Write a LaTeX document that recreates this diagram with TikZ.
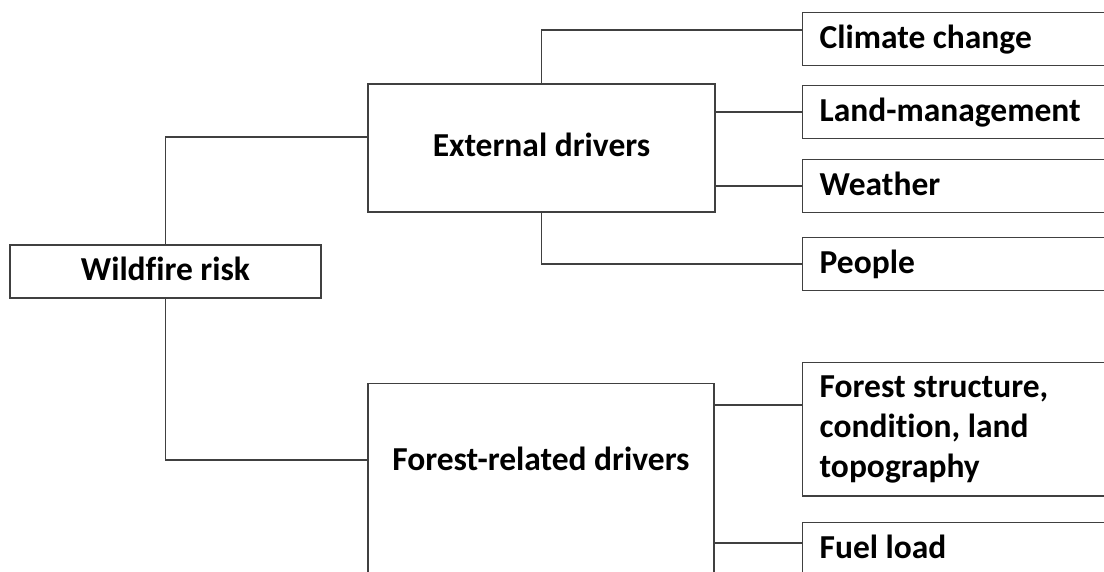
\documentclass[tikz,border=0pt]{standalone}
\usepackage{fontspec}
\setmainfont{Carlito}[Ligatures=NoCommon]
\usetikzlibrary{positioning}
\definecolor{linegray}{HTML}{404040}

\begin{document}
\begin{tikzpicture}[x=1pt,y=-1pt,
    connector/.style={draw=linegray,line width=1.4pt},
    frame node/.style={rectangle,draw=linegray,line width=1.3pt,fill=white,
                       font=\fontsize{33.5}{40}\selectfont\bfseries},
    box node/.style={frame node,text height=24pt,text depth=6pt,inner ysep=11.5pt},
    leaf node/.style={box node,anchor=north west,text width=300pt,align=flush left,inner xsep=17pt}]

  \useasboundingbox (0,0) rectangle (1104,572);
  \clip (0,0) rectangle (1104,572);
  \fill[white] (0,0) rectangle (1104,572);

  % main branches
  \node[box node,minimum width=311pt,minimum height=53pt] (risk) at (165.5,271.5) {Wildfire risk};
  \node[box node,minimum width=347pt,minimum height=128pt] (ext) at (541.5,148) {External drivers};
  \node[box node,text depth=200pt,inner ysep=63pt,anchor=north,minimum width=346pt] (forest) at (541,383) {Forest-related drivers};

  % leaves
  \node[leaf node] (climate) at (802,12) {Climate change};
  \node[leaf node] (land) at (802,85) {Land-management};
  \node[leaf node] (weather) at (802,159) {Weather};
  \node[leaf node] (people) at (802,237) {People};
  \node[frame node,anchor=north west,text width=300pt,align=flush left,inner xsep=17pt,inner ysep=13pt]
    (structure) at (802,362) {Forest structure,\\condition, land\\topography};
  \node[leaf node] (fuel) at (802,522) {Fuel load};

  \draw[connector] (risk.north) |- ([yshift=11pt]ext.west);
  \draw[connector] (risk.south) |- (forest.west |- 0,460);
  \draw[connector] (ext.north) |- ([yshift=9pt]climate.west);
  \draw[connector] (ext.east |- land.west) -- (land.west);
  \draw[connector] (ext.east |- weather.west) -- (weather.west);
  \draw[connector] (ext.south) |- (people.west);
  \draw[connector] (forest.east |- 0,405) -- (structure.west |- 0,405);
  \draw[connector] (forest.east |- 0,543) -- (fuel.west |- 0,543);
\end{tikzpicture}
\end{document}
